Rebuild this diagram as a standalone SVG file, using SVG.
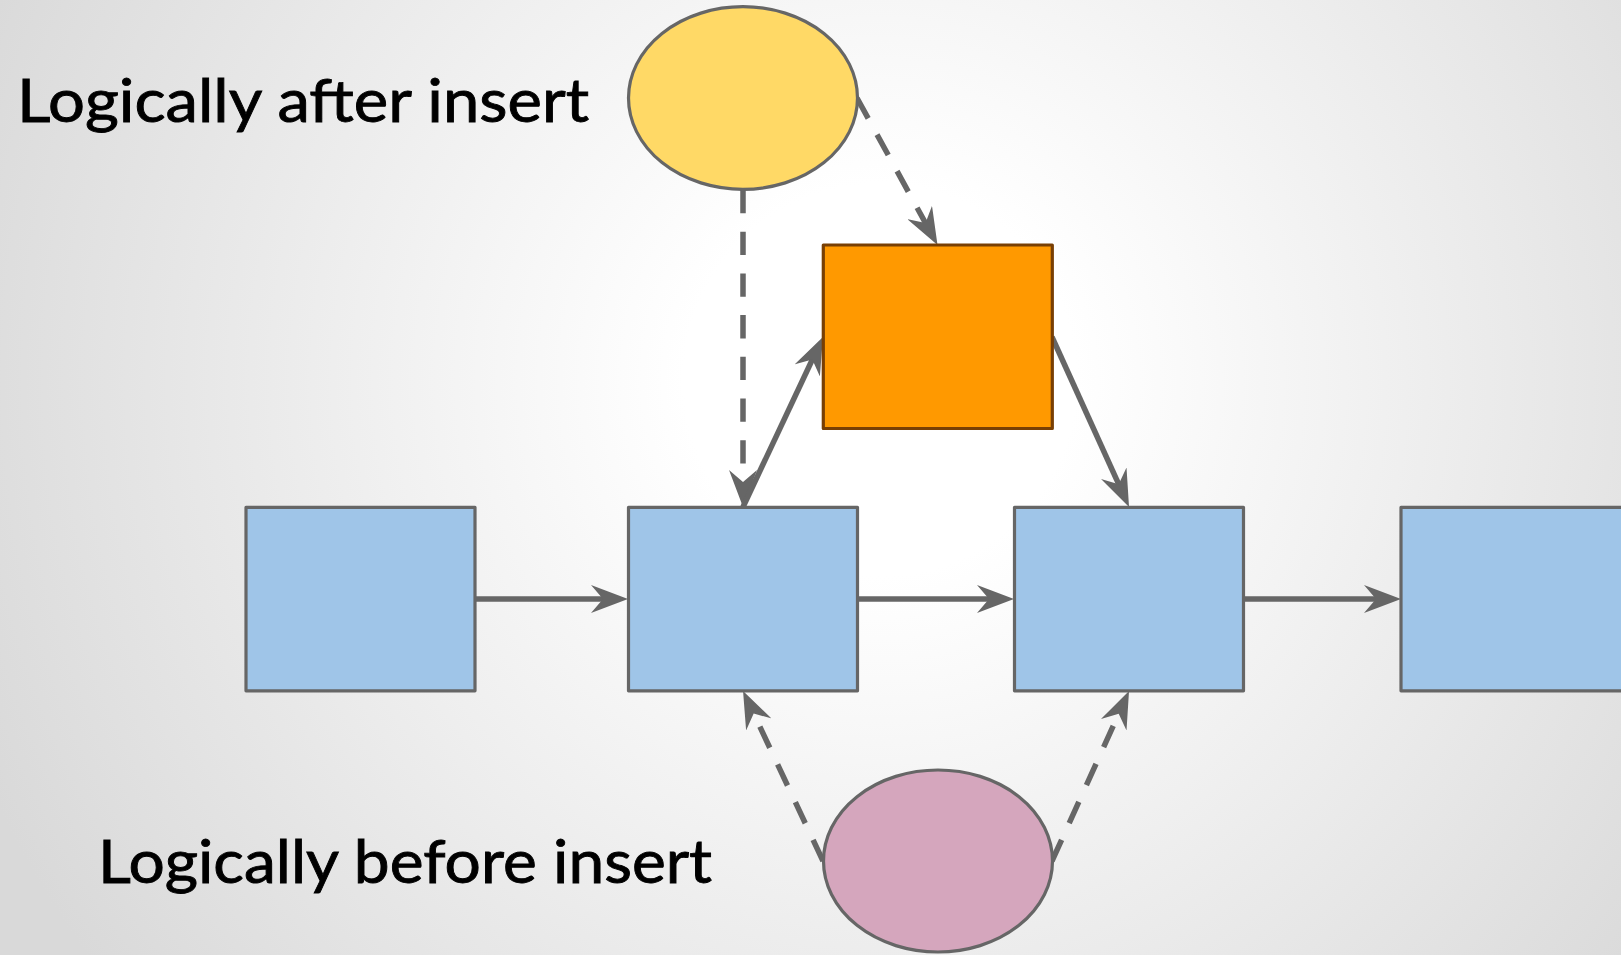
<svg xmlns="http://www.w3.org/2000/svg" width="1621" height="955" viewBox="0 0 1621 955">
  <defs>
    <radialGradient id="bg" gradientUnits="userSpaceOnUse" cx="880" cy="380" r="980">
      <stop offset="0" stop-color="#ffffff"/>
      <stop offset="0.2" stop-color="#ffffff"/>
      <stop offset="1" stop-color="#d9d9d9"/>
    </radialGradient>
    <marker id="arrow" markerUnits="userSpaceOnUse" viewBox="0 0 37 28" markerWidth="37" markerHeight="28" refX="27" refY="14" orient="auto">
      <path d="M0,0 L37,14 L0,28 L12,14 Z" fill="#666666"/>
    </marker>
    <style>
      .box { fill: #9fc5e8; stroke: #666666; stroke-width: 3.2; stroke-linejoin: round; }
      .new { fill: #ff9900; stroke: #783f04; stroke-width: 3.2; stroke-linejoin: round; }
      .after { fill: #ffd966; stroke: #666666; stroke-width: 3.2; }
      .before { fill: #d5a6bd; stroke: #666666; stroke-width: 3.2; }
      .conn { stroke: #666666; stroke-width: 5.5; fill: none; marker-end: url(#arrow); }
      .dash { stroke-dasharray: 23.3 18.4; }
      .label { font-family: Lato, "Open Sans", "Liberation Sans", sans-serif; font-size: 60px; fill: #000000; stroke: #000000; stroke-width: 0.9; }
    </style>
  </defs>
  <rect x="0" y="0" width="1621" height="955" fill="url(#bg)"/>

  <g id="connectors">
    <line class="conn" x1="475" y1="599" x2="618" y2="599"/>
    <line class="conn" x1="857" y1="599" x2="1004" y2="599"/>
    <line class="conn" x1="1244" y1="599" x2="1391" y2="599"/>
    <line class="conn dash" x1="743" y1="190" x2="743" y2="497"/>
    <line class="conn dash" x1="857" y1="98" x2="932.7" y2="236.2"/>
    <line class="conn" x1="743" y1="507" x2="818.7" y2="346"/>
    <line class="conn" x1="1052" y1="337" x2="1124.9" y2="497.9"/>
    <line class="conn dash" x1="823" y1="861" x2="747.3" y2="700"/>
    <line class="conn dash" x1="1052" y1="861" x2="1124.9" y2="700.1"/>
  </g>

  <g id="node-after">
    <ellipse class="after" cx="743" cy="98" rx="114.5" ry="91.3"/>
  </g>
  <g id="node-new">
    <rect class="new" x="823.3" y="245" width="229" height="183.5"/>
  </g>
  <g id="node-1">
    <rect class="box" x="246" y="507.3" width="229" height="183.5"/>
  </g>
  <g id="node-2">
    <rect class="box" x="628.5" y="507.3" width="229" height="183.5"/>
  </g>
  <g id="node-3">
    <rect class="box" x="1014.5" y="507.3" width="229" height="183.5"/>
  </g>
  <g id="node-4">
    <rect class="box" x="1401" y="507.3" width="260" height="183.5"/>
  </g>
  <g id="node-before">
    <ellipse class="before" cx="938" cy="861" rx="114.5" ry="91"/>
  </g>

  <g id="labels">
    <text class="label" x="17" y="122" textLength="572" lengthAdjust="spacingAndGlyphs">Logically after insert</text>
    <text class="label" x="98" y="883" textLength="614" lengthAdjust="spacingAndGlyphs">Logically before insert</text>
  </g>
</svg>
